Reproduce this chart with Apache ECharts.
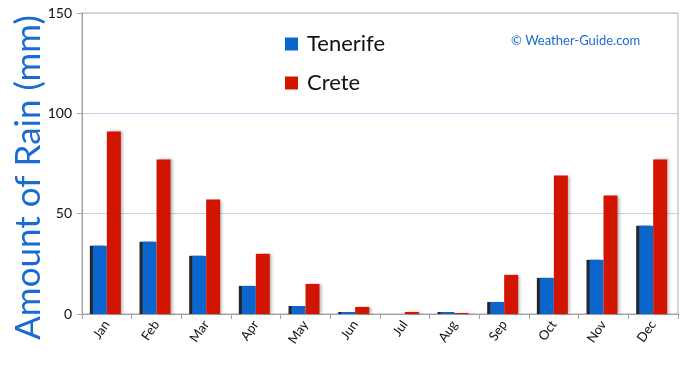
<!DOCTYPE html>
<html>
<head>
<meta charset="utf-8">
<script src="https://cdn.jsdelivr.net/npm/echarts@6/dist/echarts.min.js"></script>
<style>
html,body{margin:0;padding:0;background:#fff;}
#chart{width:690px;height:365px;}
</style>
</head>
<body>
<div id="chart"></div>
<script>
var months = ['Jan','Feb','Mar','Apr','May','Jun','Jul','Aug','Sep','Oct','Nov','Dec'];
var tenerife = [34, 36, 29, 14, 4, 1, 0, 1, 6, 18, 27, 44];
var crete = [91, 77, 57, 30, 15, 3.5, 1, 0.5, 19.5, 69, 59, 77];
var yTicks = [0, 50, 100, 150];
var seriesNames = ['Tenerife', 'Crete'];

var FONT = 'Lato, "DejaVu Sans", sans-serif';
var chart = echarts.init(document.getElementById('chart'), null, {renderer: 'canvas'});
chart.setOption({
  animation: false,
  backgroundColor: '#ffffff',
  grid: {left: 82, right: 12, top: 13, bottom: 51, show: true, borderColor: '#b0b0b0', borderWidth: 1,
         backgroundColor: 'transparent', containLabel: false, outerBoundsMode: 'none'},
  legend: {
    orient: 'vertical', left: 280, top: 28, itemWidth: 13, itemHeight: 13, itemGap: 17,
    icon: 'rect',
    data: seriesNames,
    textStyle: {fontFamily: FONT, fontSize: 22, color: '#111', padding: [0, 0, 0, 4]}
  },
  graphic: [{
    type: 'text', left: 511, top: 34,
    style: {text: '\u00A9 Weather-Guide.com', fill: '#1a6bd1', font: '13px ' + FONT}
  }],
  xAxis: {
    type: 'category', data: months,
    axisLine: {lineStyle: {color: '#a0a0a0'}},
    axisTick: {show: true, alignWithLabel: false, length: 5, lineStyle: {color: '#a0a0a0'}},
    axisLabel: {rotate: 55, fontFamily: FONT, fontSize: 13, color: '#111', margin: 8}
  },
  yAxis: {
    type: 'value', min: yTicks[0], max: yTicks[yTicks.length - 1], interval: 50,
    name: 'Amount of Rain (mm)', nameLocation: 'middle', nameGap: 36, nameMoveOverlap: false,
    nameTextStyle: {fontFamily: FONT, fontSize: 35, color: '#1a6bd1', padding: [0, 28, 0, 0]},
    axisLine: {show: true, lineStyle: {color: '#a0a0a0'}},
    axisTick: {show: true, length: 5, lineStyle: {color: '#a0a0a0'}},
    axisLabel: {fontFamily: FONT, fontSize: 14, color: '#111', margin: 10},
    splitLine: {show: true, lineStyle: {color: '#c2d3ea', width: 1}}
  },
  series: [
    {
      name: seriesNames[0], type: 'bar', data: tenerife, barWidth: 14, barGap: '0%',
      itemStyle: {color: '#0a66cc', shadowColor: 'rgba(0,0,0,0.85)', shadowBlur: 0, shadowOffsetX: -3, shadowOffsetY: 0}
    },
    {
      name: seriesNames[1], type: 'bar', data: crete, barWidth: 14, barGap: '0%',
      itemStyle: {color: '#d11500', shadowColor: 'rgba(0,0,0,0.3)', shadowBlur: 3, shadowOffsetX: 2, shadowOffsetY: 0}
    }
  ]
});
</script>
</body>
</html>
